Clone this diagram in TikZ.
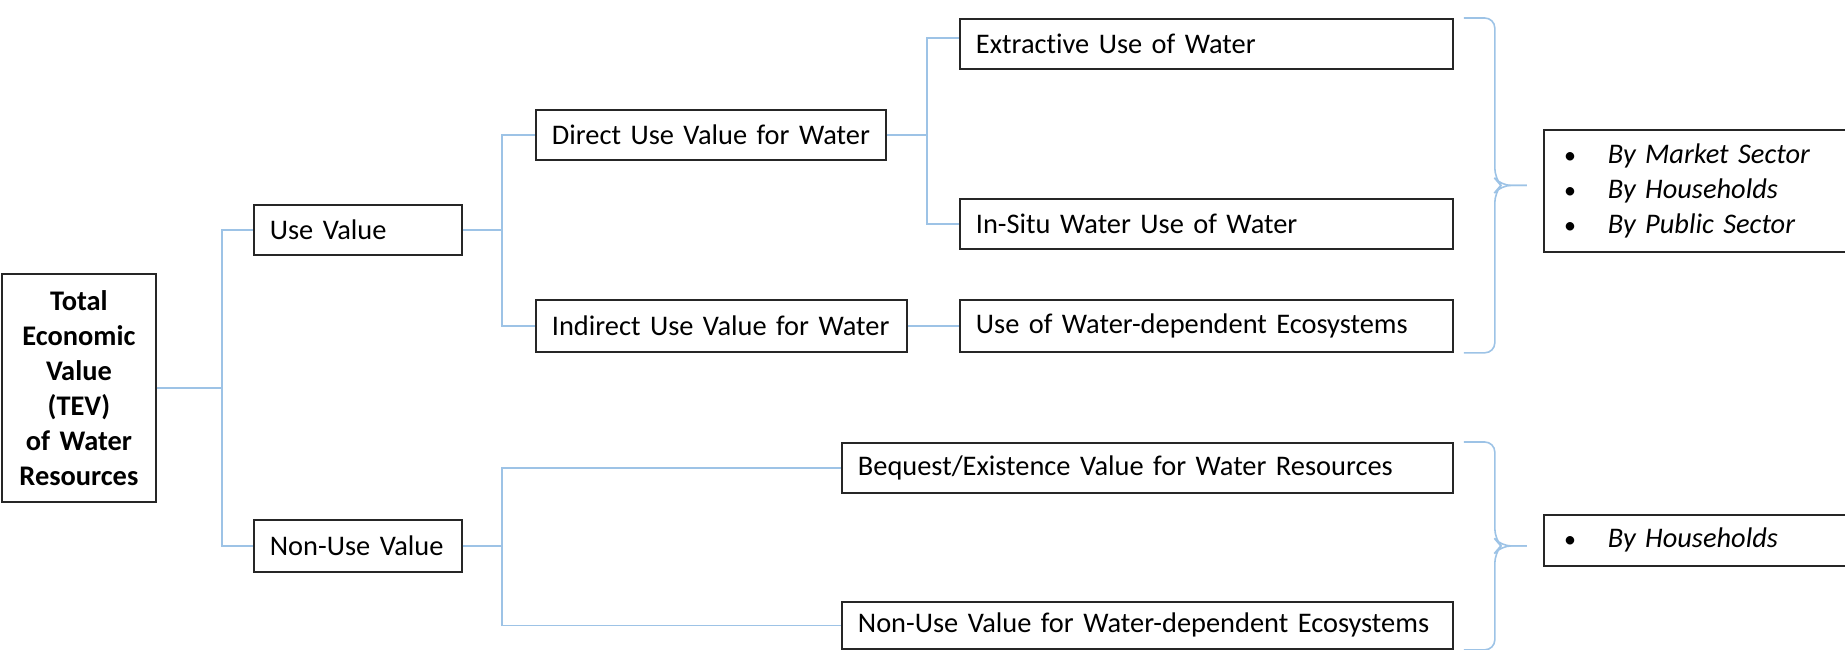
\documentclass[tikz,border=0pt]{standalone}
\usepackage{fontspec}
\setmainfont{Carlito}[Ligatures=NoCommon]
\usetikzlibrary{positioning, calc}

\definecolor{linkblue}{RGB}{157,195,230}

\newcommand{\blt}{\makebox[22pt][l]{\fontsize{12}{12}\selectfont\textbullet}}

\tikzset{
    valbox/.style={draw=black!85, line width=0.9pt, anchor=north west,
        inner xsep=0pt, inner ysep=0pt, minimum height=25pt, align=left,
        text width=#1, execute at begin node={\hspace*{8pt}},
        font=\fontsize{14.2}{17.5}\selectfont},
    listbox/.style={draw=black!85, line width=0.9pt, anchor=north west,
        inner xsep=10pt, inner ysep=0pt, text width=145pt, align=left,
        font=\fontsize{14.2}{17.5}\selectfont\itshape},
    link/.style={draw=linkblue, line width=0.8pt},
    bracket/.style={link, rounded corners=5pt}
}

\begin{document}
\begin{tikzpicture}[x=0.5pt, y=-0.5pt]
        \useasboundingbox (0,0) rectangle (1845,649);

        % root
        \node[draw=black!85, line width=0.9pt, anchor=north west, text width=65pt,
            inner xsep=6pt, inner ysep=0pt, align=center, minimum height=114pt,
            font=\fontsize{14.2}{17.5}\selectfont\bfseries] (tev) at (1,273)
            {Total\\Economic\\Value\\(TEV)\\of Water\\Resources};

        % first level
        \node[valbox=104pt] (use) at (253,204) {Use Value};
        \node[valbox=104pt, minimum height=26pt] (nonuse) at (253,519) {Non-Use Value};

        % second level
        \node[valbox=175pt] (direct) at (535,109) {Direct Use Value for Water};
        \node[valbox=185.5pt, minimum height=26pt] (indirect) at (535,299) {Indirect Use Value for Water};
        \node[valbox=305.5pt] (bequest) at (841,442) {Bequest/Existence Value for Water Resources};
        \node[valbox=305.5pt, minimum height=23.5pt] (nonusewde) at (841,601) {Non-Use Value for Water-dependent Ecosystems};

        % third level
        \node[valbox=246.5pt] (extr) at (959,18) {Extractive Use of Water};
        \node[valbox=246.5pt] (insitu) at (959,198) {In-Situ Water Use of Water};
        \node[valbox=246.5pt, minimum height=26pt] (usewde) at (959,299) {Use of Water-dependent Ecosystems};

        % who values it
        \node[listbox, minimum height=61pt] (market) at (1543,129)
            {\blt By Market Sector\\ \blt By Households\\ \blt By Public Sector};
        \node[listbox, minimum height=25.5pt] (house) at (1543,514)
            {\blt By Households};

        % tree connectors
        \draw[link] (tev.east) -- ++(65,0) |- (use.west);
        \draw[link] (tev.east) -- ++(65,0) |- (nonuse.west);
        \draw[link] (use.east) -- ++(39,0) |- (direct.west);
        \draw[link] (use.east) -- ++(39,0) |- (indirect.west);
        \draw[link] (direct.east) -- ++(40,0) |- ([yshift=3pt]extr.west);
        \draw[link] (direct.east) -- ++(40,0) |- (insitu.west);
        \draw[link] (indirect) -- (usewde);
        \draw[link] (nonuse.east) -- ++(39,0) |- (bequest.west);
        \draw[link] (nonuse.east) -- ++(39,0) |- (nonusewde.west);

        % brackets
        \coordinate (b1top) at ($(extr.north east)+(10,0)$);
        \coordinate (b1bot) at ($(usewde.south east)+(10,0)$);
        \coordinate (b1tip) at ($(b1top)!0.5!(b1bot)+(63,0)$);
        \draw[bracket] (b1top) -| ($(b1tip)+(-32,-7)$) -- ($(b1tip)+(-26,0)$) -- (b1tip);
        \draw[bracket] (b1bot) -| ($(b1tip)+(-32,7)$) -- ($(b1tip)+(-26,0)$) -- (b1tip);

        \coordinate (b2top) at ($(bequest.north east)+(10,0)$);
        \coordinate (b2bot) at ($(nonusewde.south east)+(10,0)$);
        \coordinate (b2tip) at ($(b2top)!0.5!(b2bot)+(63,0)$);
        \draw[bracket] (b2top) -| ($(b2tip)+(-32,-7)$) -- ($(b2tip)+(-26,0)$) -- (b2tip);
        \draw[bracket] (b2bot) -| ($(b2tip)+(-32,7)$) -- ($(b2tip)+(-26,0)$) -- (b2tip);
    \end{tikzpicture}
\end{document}
